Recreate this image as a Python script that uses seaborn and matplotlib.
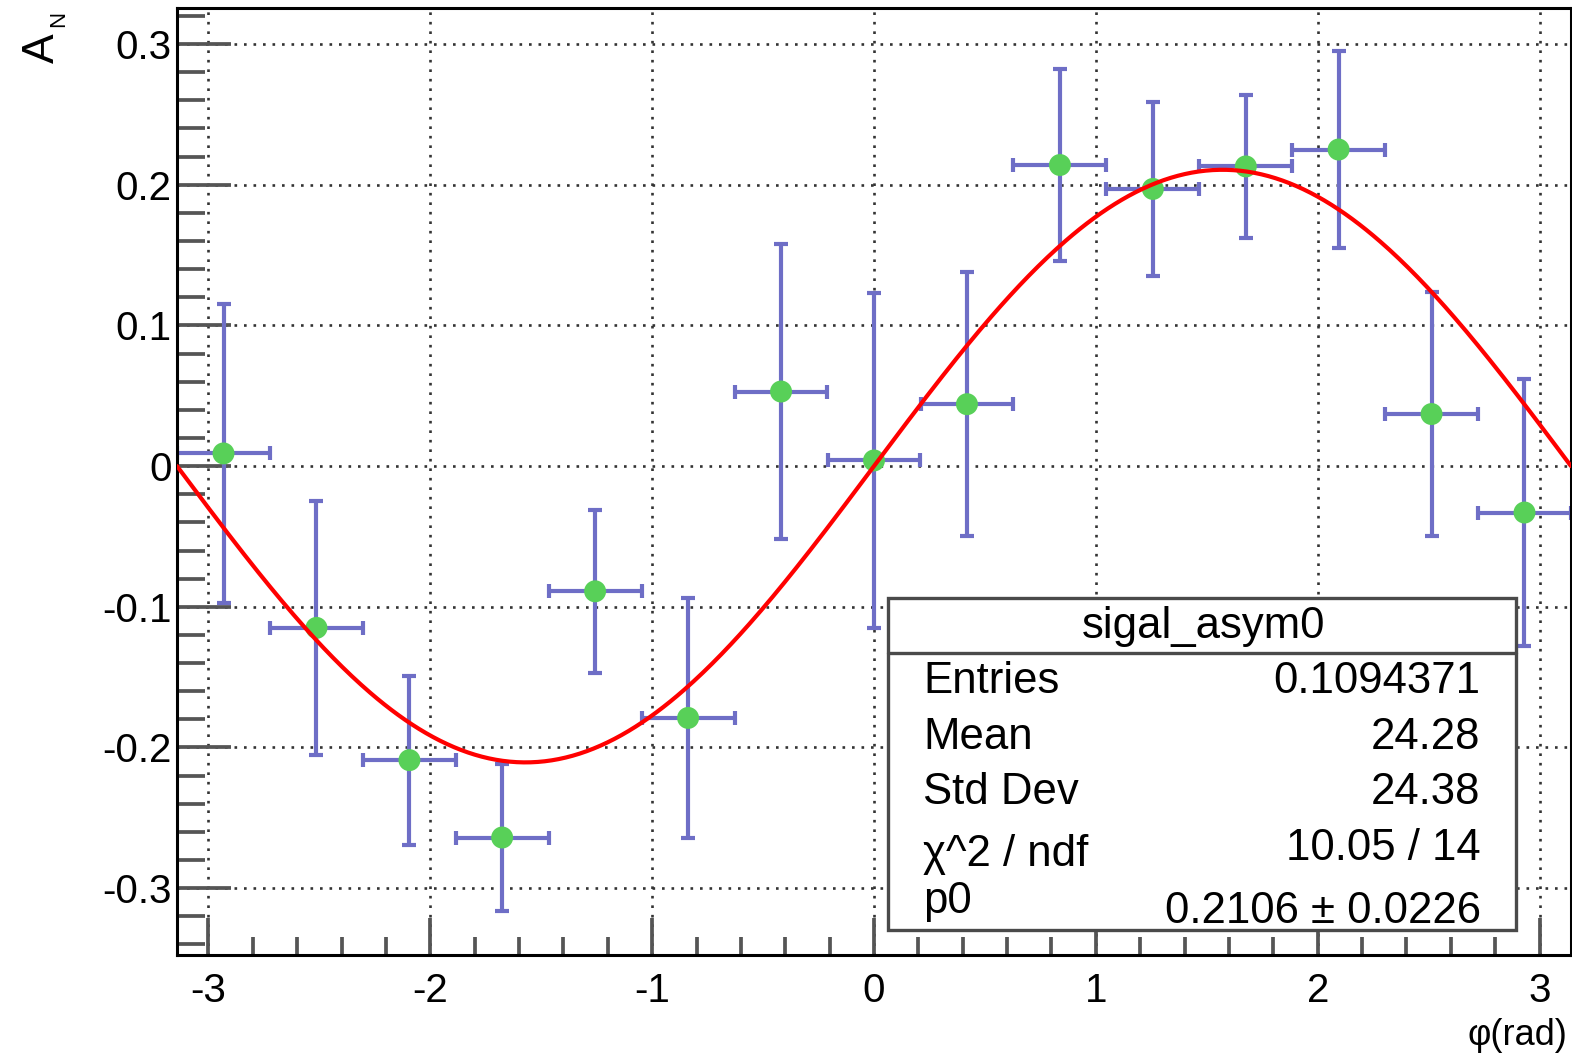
import numpy as np
import pandas as pd
import matplotlib
matplotlib.use("Agg")
import matplotlib.pyplot as plt
import seaborn as sns
from matplotlib.ticker import FixedLocator, MultipleLocator, FuncFormatter
from matplotlib.patches import Rectangle

# ---------------- data ----------------
phi_centers = [-2.932, -2.513, -2.094, -1.676, -1.257, -0.838, -0.419, 0.0,
               0.419, 0.838, 1.257, 1.676, 2.094, 2.513, 2.932]
phi_halfwidth = [0.2094] * 15
a_n = [0.009, -0.115, -0.209, -0.264, -0.089, -0.179, 0.053, 0.004,
       0.044, 0.214, 0.197, 0.213, 0.225, 0.037, -0.033]
a_n_err = [0.106, 0.090, 0.060, 0.052, 0.058, 0.085, 0.105, 0.119,
           0.094, 0.068, 0.062, 0.051, 0.070, 0.087, 0.095]
fit_p0 = 0.2106

x_ticks = [-3, -2, -1, 0, 1, 2, 3]
y_ticks = [-0.3, -0.2, -0.1, 0.0, 0.1, 0.2, 0.3]

stats_title = "sigal_asym0"
stats_labels = ["Entries", "Mean", "Std Dev", "\u03c7^2 / ndf", "p0"]
stats_values = ["0.1094371", "24.28", "24.38", "10.05 / 14", "0.2106 \u00b1 0.0226"]

# ---------------- style ----------------
sns.set_theme(style="white")
plt.rcParams["font.family"] = ["Liberation Sans", "DejaVu Sans"]
plt.rcParams["axes.unicode_minus"] = False

W, H = 1572, 1054
fig = plt.figure(figsize=(W / 100, H / 100), dpi=100)
ax = fig.add_axes([177 / W, (H - 955) / H, (1571 - 177) / W, (955 - 8) / H])

df = pd.DataFrame({"phi": phi_centers, "an": a_n})
fit_x = np.linspace(-np.pi, np.pi, 600)
fit_df = pd.DataFrame({"phi": fit_x, "an": fit_p0 * np.sin(fit_x)})

err_col = "#6e6ec6"
ax.errorbar(df["phi"], df["an"], xerr=phi_halfwidth, yerr=a_n_err, fmt="none",
            ecolor=err_col, elinewidth=3.0, capsize=4.7, capthick=3.0, zorder=2)
sns.scatterplot(data=df, x="phi", y="an", ax=ax, s=250, color="#58d058",
                edgecolor="none", linewidth=0, zorder=3, legend=False)
sns.lineplot(data=fit_df, x="phi", y="an", ax=ax, color="#ff0000", lw=3.0,
             zorder=4, legend=False)

ax.set_xlim(-np.pi, np.pi)
ax.set_ylim(-0.3475, 0.3256)
ax.set_xlabel("")
ax.set_ylabel("")

ax.xaxis.set_major_locator(FixedLocator(x_ticks))
ax.xaxis.set_minor_locator(MultipleLocator(0.2))
ax.yaxis.set_major_locator(FixedLocator(y_ticks))
ax.yaxis.set_minor_locator(MultipleLocator(0.02))
ax.xaxis.set_major_formatter(FuncFormatter(lambda v, p: "%g" % round(v, 3)))
ax.yaxis.set_major_formatter(FuncFormatter(lambda v, p: "%g" % round(v, 3)))

tick_col = "#555555"
ax.tick_params(axis="y", which="major", direction="in", length=39, width=2.7,
               color=tick_col, labelsize=29, pad=4, left=True, right=False)
ax.tick_params(axis="y", which="minor", direction="in", length=20, width=2.7,
               color=tick_col, left=True, right=False)
ax.tick_params(axis="x", which="major", direction="in", length=27, width=2.7,
               color=tick_col, labelsize=29, pad=12, bottom=True, top=False)
ax.tick_params(axis="x", which="minor", direction="in", length=13, width=2.7,
               color=tick_col, bottom=True, top=False)
for lab in ax.get_xticklabels() + ax.get_yticklabels():
    lab.set_color("black")

ax.grid(True, which="major", color="#333333", lw=1.9, linestyle=(0, (1, 2.6)))
ax.set_axisbelow(True)
for s in ax.spines.values():
    s.set_color("black")
    s.set_linewidth(2.2)

# axis titles
fig.text(54 / W, 1 - 63 / H, "A", rotation=90, rotation_mode="anchor",
         ha="left", va="baseline", fontsize=32, color="black")
fig.text(64 / W, 1 - 27 / H, "N", rotation=90, rotation_mode="anchor",
         ha="left", va="baseline", fontsize=16, color="black")
fig.text(1567 / W, 1 - 1045 / H, "\u03c6(rad)", ha="right", va="baseline",
         fontsize=26, color="black")

# stats box
box = Rectangle((0.5104, 0.0264), 0.9606 - 0.5104, 0.377 - 0.0264,
                transform=ax.transAxes, facecolor="white", edgecolor="#4a4a4a",
                lw=2.4, zorder=10, clip_on=False)
ax.add_patch(box)
ax.plot([0.5104, 0.9606], [0.3194, 0.3194], transform=ax.transAxes,
        color="#4a4a4a", lw=2.4, zorder=11, clip_on=False)
ax.text(0.7367, 0.3347, stats_title, transform=ax.transAxes, ha="center",
        va="baseline", fontsize=31.5, zorder=12, color="black")
label_y = [0.2762, 0.2180, 0.1597, 0.0943, 0.0448]
value_y = [0.2762, 0.2180, 0.1597, 0.1006, 0.0342]
for lab, val, ly, vy in zip(stats_labels, stats_values, label_y, value_y):
    ax.text(0.5353, ly, lab, transform=ax.transAxes, ha="left", va="baseline",
            fontsize=31.5, zorder=12, color="black")
    ax.text(0.9351, vy, val, transform=ax.transAxes, ha="right", va="baseline",
            fontsize=31.5, zorder=12, color="black")

fig.savefig("out.png", dpi=100, facecolor="white")
